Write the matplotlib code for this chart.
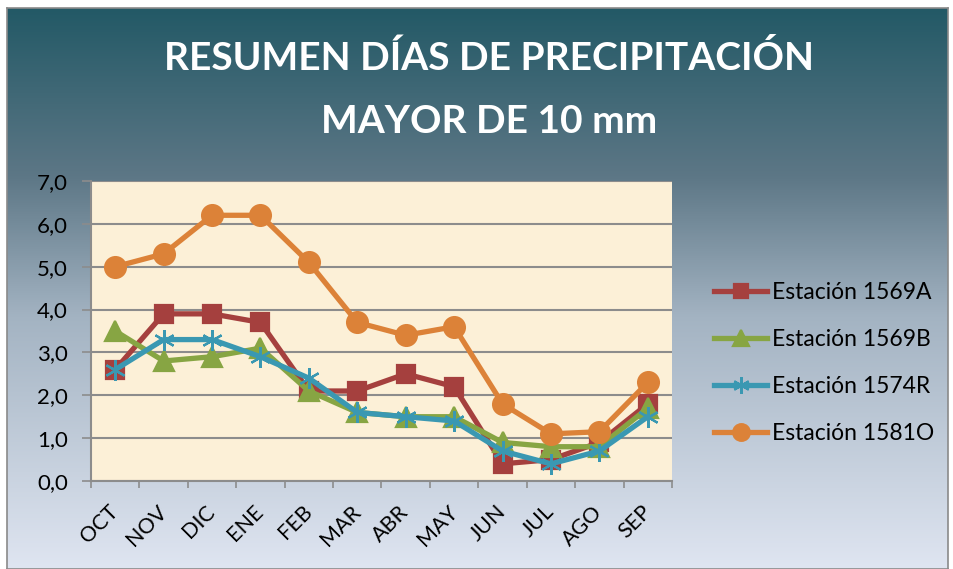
import numpy as np
import matplotlib.pyplot as plt
from matplotlib.colors import LinearSegmentedColormap
from matplotlib.ticker import FixedLocator, FuncFormatter

months = ["OCT", "NOV", "DIC", "ENE", "FEB", "MAR", "ABR", "MAY", "JUN", "JUL", "AGO", "SEP"]
est_1569A = [2.6, 3.9, 3.9, 3.7, 2.1, 2.1, 2.5, 2.2, 0.4, 0.5, 0.9, 1.8]
est_1569B = [3.5, 2.8, 2.9, 3.1, 2.1, 1.6, 1.5, 1.5, 0.9, 0.8, 0.8, 1.7]
est_1574R = [2.6, 3.3, 3.3, 2.9, 2.4, 1.6, 1.5, 1.4, 0.7, 0.4, 0.7, 1.5]
est_1581O = [5.0, 5.3, 6.2, 6.2, 5.1, 3.7, 3.4, 3.6, 1.8, 1.1, 1.15, 2.3]

plt.rcParams['font.family'] = ['Lato', 'DejaVu Sans']

fig = plt.figure(figsize=(9.54, 5.69), dpi=100)
fig.patch.set_facecolor('white')

# gradient background of the chart area
bg = fig.add_axes([7 / 954, 0, 941 / 954, 561 / 569], zorder=-5)
cmap = LinearSegmentedColormap.from_list(
    "bg", [(0.0, "#235966"), (0.3, "#5d7786"), (0.55, "#a3b3c2"), (1.0, "#dfe5f1")])
grad = np.linspace(0, 1, 256).reshape(-1, 1)
bg.imshow(grad, aspect='auto', cmap=cmap, extent=[0, 1, 0, 1], origin='upper')
bg.set_xticks([])
bg.set_yticks([])
for s in bg.spines.values():
    s.set_color('#8a8a8a')
    s.set_linewidth(1.2)

ax = fig.add_axes([91 / 954, 88 / 569, 581 / 954, 300 / 569])
ax.set_facecolor('#fcf0d7')

x = np.arange(len(months))
series = [
    ("Estación 1569A", est_1569A, '#a5403e', 's', 13),
    ("Estación 1569B", est_1569B, '#87a543', '^', 14),
    ("Estación 1574R", est_1574R, '#3a98b2', (6, 2, 0), 15),
    ("Estación 1581O", est_1581O, '#dc8238', 'o', 15),
]
for label, vals, color, marker, ms in series:
    ax.plot(x, vals, color=color, linewidth=3.8, marker=marker, markersize=ms,
            markerfacecolor=color, markeredgecolor=color, markeredgewidth=1.6,
            label=label, zorder=3)

ax.set_xlim(-0.5, len(months) - 0.5)
ax.set_ylim(0, 7)
ax.set_yticks(np.arange(0, 7.1, 1))
ax.yaxis.set_major_formatter(FuncFormatter(lambda v, p: f"{v:.1f}".replace('.', ',')))
ax.grid(axis='y', color='#8c8c8c', linewidth=1.5, zorder=1)
ax.set_axisbelow(True)

ax.set_xticks(x)
ax.set_xticklabels(months, rotation=45, ha='right', va='center',
                   rotation_mode='anchor', fontsize=15.5)
ax.xaxis.set_minor_locator(FixedLocator(np.arange(-0.5, len(months), 1)))
ax.tick_params(axis='x', which='major', length=0, pad=20)
ax.tick_params(axis='x', which='minor', length=5, color='#8c8c8c', width=1.2)
ax.tick_params(axis='y', length=6.5, color='#8c8c8c', width=1.2, labelsize=16, pad=10)

for side in ['top', 'right']:
    ax.spines[side].set_visible(False)
for side in ['left', 'bottom']:
    ax.spines[side].set_color('#8c8c8c')
    ax.spines[side].set_linewidth(1.5)

fig.text(0.513, 0.898, "RESUMEN DÍAS DE PRECIPITACIÓN", color='white',
         fontsize=28, fontweight='bold', ha='center', va='center')
fig.text(0.513, 0.786, "MAYOR DE 10 mm", color='white',
         fontsize=28, fontweight='bold', ha='center', va='center')

leg = fig.legend(loc='center left', bbox_to_anchor=(693 / 954, 1 - 363 / 569),
                 frameon=False, fontsize=16.5, handlelength=2.35, handletextpad=0.2,
                 labelspacing=1.14, markerscale=0.8)

plt.savefig("out.png", dpi=100)
plt.close()
